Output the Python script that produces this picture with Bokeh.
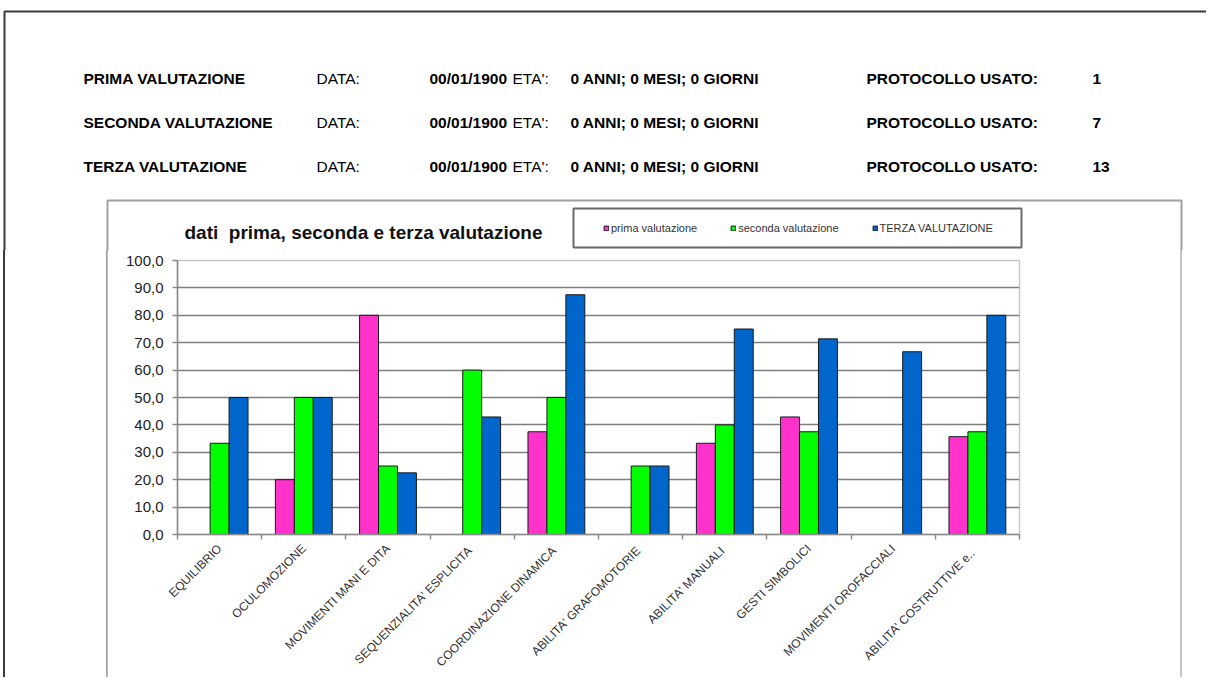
import math
from bokeh.plotting import figure
from bokeh.layouts import column, row
from bokeh.models import (Range1d, FixedTicker, CustomJSTickFormatter, Label, Legend,
                          LegendItem, BoxAnnotation, ColumnDataSource, Div)
from bokeh.transform import dodge
from bokeh.embed import file_html
from bokeh.resources import INLINE

# ---------------- data ----------------
categories = ["EQUILIBRIO", "OCULOMOZIONE", "MOVIMENTI MANI E DITA",
              "SEQUENZIALITA'  ESPLICITA", "COORDINAZIONE  DINAMICA",
              "ABILITA'  GRAFOMOTORIE", "ABILITA'  MANUALI", "GESTI SIMBOLICI",
              "MOVIMENTI OROFACCIALI", "ABILITA'  COSTRUTTIVE  e.."]
prima = [0, 20, 80, 0, 37.5, 0, 33.3, 42.9, 0, 35.7]
seconda = [33.3, 50, 25, 60, 50, 25, 40, 37.5, 0, 37.5]
terza = [50, 50, 22.5, 42.9, 87.5, 25, 75, 71.4, 66.7, 80]
series_names = ["prima valutazione", "seconda valutazione", "TERZA VALUTAZIONE"]
y_ticks = [0, 10, 20, 30, 40, 50, 60, 70, 80, 90, 100]

header_titles = ["PRIMA VALUTAZIONE", "SECONDA VALUTAZIONE", "TERZA VALUTAZIONE"]
header_dates = ["00/01/1900", "00/01/1900", "00/01/1900"]
header_ages = ["0 ANNI; 0 MESI; 0 GIORNI", "0 ANNI; 0 MESI; 0 GIORNI", "0 ANNI; 0 MESI; 0 GIORNI"]
header_protocols = ["1", "7", "13"]
chart_title = "dati\u00a0 prima, seconda e terza valutazione"

colors = ["#FF33CC", "#00FF00", "#0066CC"]
FONT = "Liberation Sans"
FRAME_COL = "#3a3a3a"
BOX_COL = "#a0a0a0"
BOX_COL_R = "#c4c4c4"

W = 1206
HA = 250                 # header figure height
HB = 427                 # chart row height
WB, WC = 107, 1073
WD = W - WB - WC

# ---------------- header figure ----------------
pa = figure(width=W, height=HA, output_backend="svg", toolbar_location=None,
            x_range=Range1d(0, W), y_range=Range1d(HA, 0),
            x_axis_type=None, y_axis_type=None, min_border=0)
pa.outline_line_color = None
pa.grid.grid_line_color = None
pa.background_fill_color = "white"
pa.border_fill_color = "white"

# outer page frame (top + left)
pa.add_layout(BoxAnnotation(left=4, right=W + 50, top=11, bottom=HA + 50,
                            fill_alpha=0, line_alpha=1, line_color=FRAME_COL, line_width=2))
# chart box (top + sides)
pa.add_layout(BoxAnnotation(left=WB, right=WB + WC + 1, top=200, bottom=HA + 50,
                            fill_alpha=0, line_alpha=1, line_color=BOX_COL, line_width=2))
# legend box
pa.add_layout(BoxAnnotation(left=573, right=1021, top=208, bottom=247,
                            fill_alpha=0, line_alpha=1, line_color="#6a6a6a", line_width=2))

proxy = ColumnDataSource(dict(x=[float("nan")], top=[float("nan")]))
leg_r = [pa.vbar(x="x", top="top", width=1, source=proxy, fill_color=c,
                 line_color="#1a1a1a", line_width=1) for c in colors]
legend = Legend(items=[LegendItem(label=nm, renderers=[r]) for nm, r in zip(series_names, leg_r)],
                location=(603, 16), orientation="horizontal",
                padding=0, margin=0, spacing=33, glyph_width=6, glyph_height=6,
                label_standoff=2, label_height=12, label_text_font=FONT,
                label_text_font_size="11px", label_text_color="#333333",
                border_line_alpha=0, background_fill_alpha=0)
pa.add_layout(legend, "center")

pa.add_layout(Label(x=184, y=232, text=chart_title, text_font=FONT, text_font_size="19px",
                    text_font_style="bold", text_color="#111111", text_baseline="middle"))

row_y = [78, 122, 166]
for i in range(3):
    items = [
        (83, header_titles[i], "bold"),
        (316, "DATA:", "normal"),
        (429, header_dates[i], "bold"),
        (512, "ETA':", "normal"),
        (570, header_ages[i], "bold"),
        (866, "PROTOCOLLO USATO:", "bold"),
        (1092, header_protocols[i], "bold"),
    ]
    for x, t, st in items:
        pa.add_layout(Label(x=x, y=row_y[i], text=t, text_font=FONT, text_font_size="15.5px",
                            text_font_style=st, text_color="#000000", text_baseline="middle"))

# ---------------- side strips (continuing the frame lines) ----------------
div_b = Div(width=WB, height=HB, margin=0, text=(
    f'<div style="position:relative;width:{WB}px;height:{HB}px;">'
    f'<div style="position:absolute;left:3px;top:0;width:2px;height:{HB}px;background:{FRAME_COL};"></div>'
    f'<div style="position:absolute;left:{WB-1}px;top:0;width:2px;height:{HB}px;background:{BOX_COL};"></div>'
    '</div>'))
div_d = Div(width=WD, height=HB, margin=0, text=(
    f'<div style="position:relative;width:{WD}px;height:{HB}px;">'
    f'<div style="position:absolute;left:0;top:0;width:2px;height:{HB}px;background:{BOX_COL_R};"></div>'
    '</div>'))

# ---------------- chart ----------------
n = len(categories)
centers = [i + 0.5 for i in range(n)]
bounds = [float(i) for i in range(n + 1)]
src = ColumnDataSource(dict(x=centers, prima=prima, seconda=seconda, terza=terza))

FL, FR, FT, FB = 70, 912, 10, 284
p = figure(width=WC, height=HB, output_backend="svg", toolbar_location=None,
           x_range=Range1d(0, n), y_range=Range1d(0, 100),
           min_border_left=FL, min_border_right=WC - FR,
           min_border_top=FT, min_border_bottom=HB - FB)
p.background_fill_color = "white"
p.border_fill_color = "white"
p.outline_line_color = "#c8c8c8"
p.outline_line_width = 1.5

bw = 0.225
for key, off, col in zip(["prima", "seconda", "terza"], [-bw, 0, bw], colors):
    p.vbar(x=dodge("x", off), top=key, width=bw, bottom=0, source=src,
           fill_color=col, line_color="#1a1a1a", line_width=1)

p.yaxis.ticker = FixedTicker(ticks=y_ticks)
p.yaxis.formatter = CustomJSTickFormatter(code="return tick.toFixed(1).replace('.', ',');")
p.yaxis.axis_line_color = "#8a8a8a"
p.yaxis.axis_line_width = 1.5
p.yaxis.major_tick_out = 5
p.yaxis.major_tick_in = 0
p.yaxis.major_tick_line_color = "#8a8a8a"
p.yaxis.major_tick_line_width = 1.5
p.yaxis.minor_tick_line_color = None
p.yaxis.major_label_text_font = FONT
p.yaxis.major_label_text_font_size = "15px"
p.yaxis.major_label_text_color = "#222222"
p.yaxis.major_label_standoff = 9

p.ygrid.ticker = FixedTicker(ticks=y_ticks)
p.ygrid.grid_line_color = "#7f7f7f"
p.ygrid.grid_line_width = 1.7
p.xgrid.grid_line_color = None

p.xaxis.ticker = FixedTicker(ticks=centers, minor_ticks=bounds)
p.xaxis.formatter = CustomJSTickFormatter(args=dict(labels=categories),
                                          code="return labels[Math.floor(tick)];")
p.xaxis.axis_line_color = "#8a8a8a"
p.xaxis.axis_line_width = 1.5
p.xaxis.major_tick_in = 0
p.xaxis.major_tick_out = 0
p.xaxis.minor_tick_in = 0
p.xaxis.minor_tick_out = 5
p.xaxis.minor_tick_line_color = "#8a8a8a"
p.xaxis.minor_tick_line_width = 1.5
p.xaxis.major_label_orientation = math.pi / 4
p.xaxis.major_label_text_font = FONT
p.xaxis.major_label_text_font_size = "12px"
p.xaxis.major_label_text_color = "#333333"
p.xaxis.major_label_standoff = 7

layout = column(pa, row(div_b, p, div_d))
open("out.html", "w").write(file_html(layout, INLINE))
